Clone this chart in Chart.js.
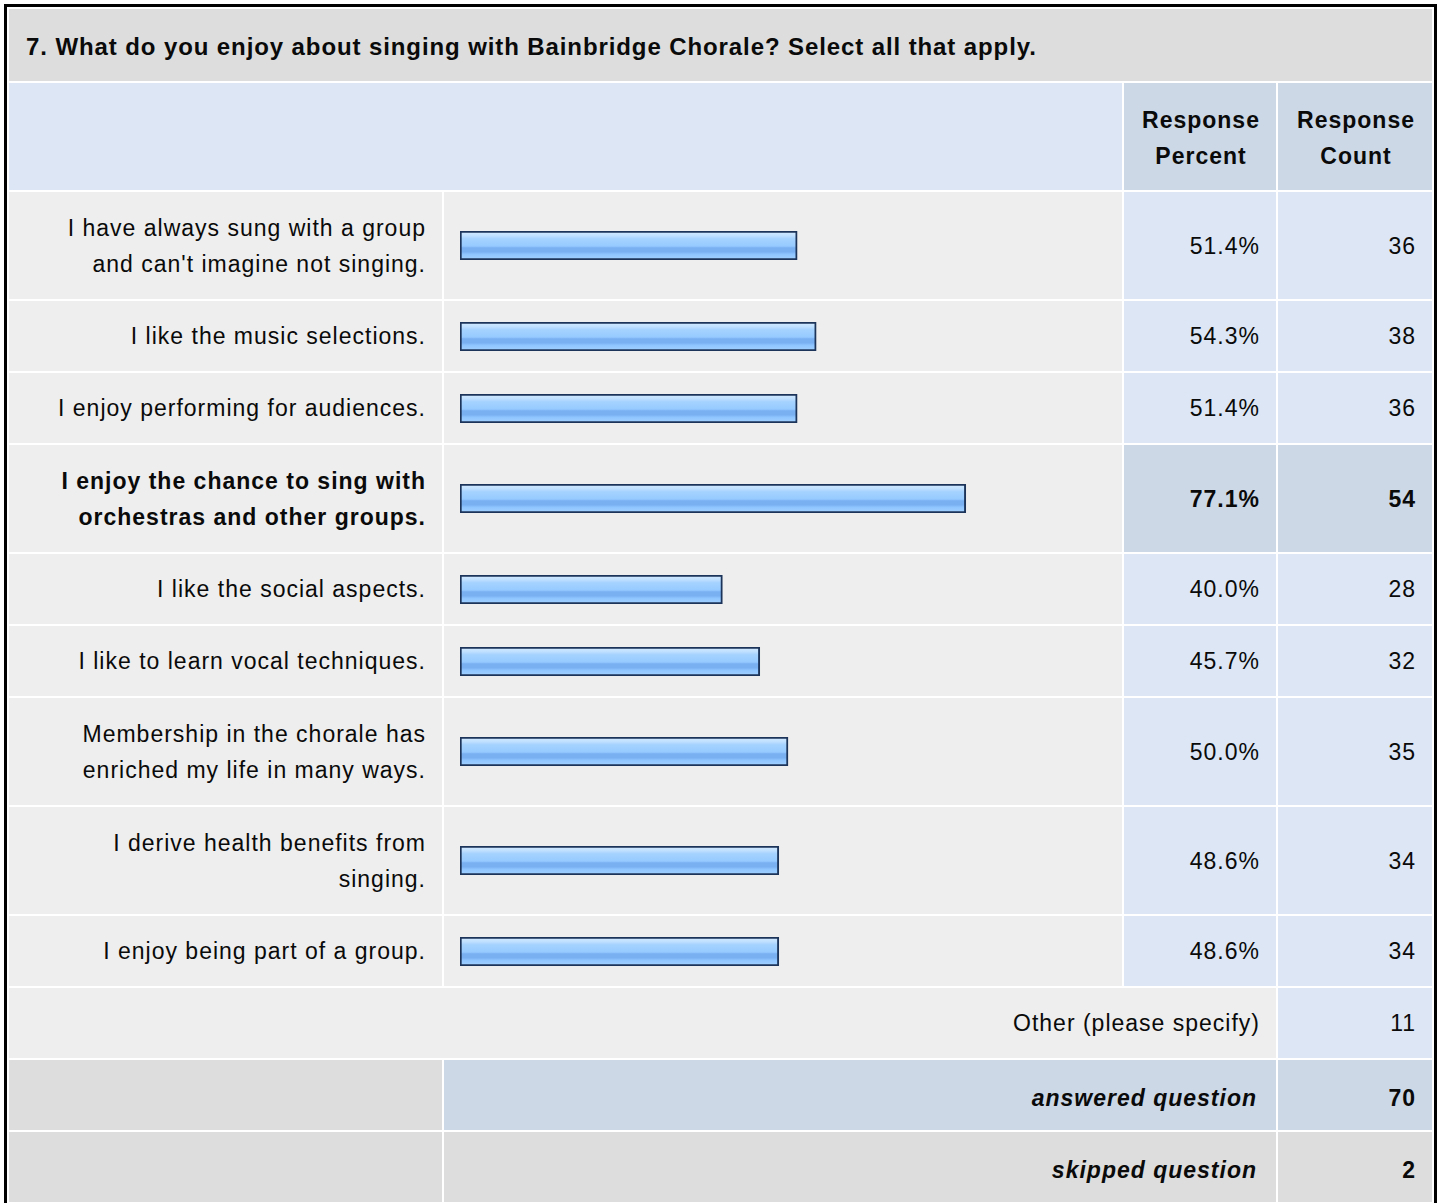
<!DOCTYPE html>
<html>
<head>
<meta charset="utf-8">
<script src="https://cdn.jsdelivr.net/npm/chart.js@4/dist/chart.umd.min.js"></script>
<style>
  html, body { margin:0; padding:0; background:#fff; }
  body { width:1440px; height:1203px; overflow:hidden; position:relative;
         font-family:"Liberation Sans", Arial, sans-serif; font-size:23px; letter-spacing:1px; color:#0a0a0a; }
  #frame { position:absolute; left:4px; top:4px; width:1427px; border:3px solid #000; border-bottom:none; background:#fff; }
  table { border-spacing:2px; border-collapse:separate; table-layout:fixed; width:1427px; }
  td { padding:0 16px 0 17px; line-height:36px; vertical-align:middle; white-space:nowrap; overflow:hidden; }
  .title td { background:#dddddd; font-weight:bold; font-size:24px; letter-spacing:0.9px; height:68px; padding-top:4px; padding-bottom:0; }
  .hdr td { height:105px; padding-top:2px; }
  .hl { background:#dce6f4; }
  .hd { background:#ccd8e6; font-weight:bold; text-align:center; padding-left:4px; padding-right:2px; }
  .lab { background:#eeeeee; text-align:right; }
  .bar { background:#eeeeee; padding:0; }
  .bar canvas { display:block; }
  .val { background:#dce6f4; text-align:right; }
  .max td.lab, .max td.val { font-weight:bold; }
  .max td.val { background:#ccd8e6; }
  tr.single td { height:70px; }
  tr.double td { height:107px; }
  tr.sum td { height:65px; padding-top:5px; }
  .grey { background:#dddddd; }
  .sumlab { text-align:right; font-weight:bold; font-style:italic; padding-right:19px; }
  .sumval { text-align:right; font-weight:bold; }
  .blue2 { background:#ccd8e6; }
</style>
</head>
<body>
<div id="frame">
<table id="tbl">
  <colgroup><col style="width:433px"><col style="width:678px"><col style="width:152px"><col style="width:154px"></colgroup>
  <tbody id="tb"></tbody>
</table>
</div>
<script>
// ---- data ----
const questionTitle = "7. What do you enjoy about singing with Bainbridge Chorale? Select all that apply.";
const headerPercent = ["Response", "Percent"];
const headerCount = ["Response", "Count"];
const categories = [
  ["I have always sung with a group", "and can't imagine not singing."],
  ["I like the music selections."],
  ["I enjoy performing for audiences."],
  ["I enjoy the chance to sing with", "orchestras and other groups."],
  ["I like the social aspects."],
  ["I like to learn vocal techniques."],
  ["Membership in the chorale has", "enriched my life in many ways."],
  ["I derive health benefits from", "singing."],
  ["I enjoy being part of a group."]
];
const responsePercent = [51.4, 54.3, 51.4, 77.1, 40.0, 45.7, 50.0, 48.6, 48.6];
const responseCount = [36, 38, 36, 54, 28, 32, 35, 34, 34];
const otherLabel = "Other (please specify)";
const otherCount = 11;
const answeredLabel = "answered question";
const answeredCount = 70;
const skippedLabel = "skipped question";
const skippedCount = 2;

// ---- table ----
const tb = document.getElementById('tb');
function el(tag, cls, html) { const e = document.createElement(tag); if (cls) e.className = cls; if (html !== undefined) e.innerHTML = html; return e; }
const esc = s => s.replace(/&/g,'&amp;').replace(/</g,'&lt;');

let tr = el('tr','title'); let td = el('td','', esc(questionTitle)); td.colSpan = 4; tr.appendChild(td); tb.appendChild(tr);
tr = el('tr','hdr');
td = el('td','hl'); td.colSpan = 2; tr.appendChild(td);
tr.appendChild(el('td','hd', headerPercent.map(esc).join('<br>')));
tr.appendChild(el('td','hd', headerCount.map(esc).join('<br>')));
tb.appendChild(tr);

const maxVal = Math.max(...responsePercent);
const canvases = [];
categories.forEach((lines, i) => {
  const r = el('tr', (lines.length > 1 ? 'double' : 'single') + (responsePercent[i] === maxVal ? ' max' : ''));
  r.appendChild(el('td','lab', lines.map(esc).join('<br>')));
  const bc = el('td','bar');
  const cv = document.createElement('canvas');
  cv.width = 678; cv.height = 29;
  cv.style.width = '678px'; cv.style.height = '29px';
  bc.appendChild(cv); r.appendChild(bc);
  canvases.push(cv);
  r.appendChild(el('td','val', responsePercent[i].toFixed(1) + '%'));
  r.appendChild(el('td','val', String(responseCount[i])));
  tb.appendChild(r);
});

tr = el('tr','single');
td = el('td','lab', esc(otherLabel)); td.colSpan = 3; tr.appendChild(td);
tr.appendChild(el('td','val', String(otherCount)));
tb.appendChild(tr);

tr = el('tr','sum');
tr.appendChild(el('td','grey'));
td = el('td','blue2 sumlab', esc(answeredLabel)); td.colSpan = 2; tr.appendChild(td);
tr.appendChild(el('td','blue2 sumval', String(answeredCount)));
tb.appendChild(tr);

tr = el('tr','sum');
tr.appendChild(el('td','grey'));
td = el('td','grey sumlab', esc(skippedLabel)); td.colSpan = 2; tr.appendChild(td);
tr.appendChild(el('td','grey sumval', String(skippedCount)));
tb.appendChild(tr);

// ---- bars (Chart.js) ----
function barGradient(context) {
  const chart = context.chart;
  const area = chart.chartArea;
  if (!area) return '#94c9ff';
  const g = chart.ctx.createLinearGradient(0, area.top, 0, area.bottom);
  g.addColorStop(0.00, '#d4ebff');
  g.addColorStop(0.16, '#c0e0ff');
  g.addColorStop(0.26, '#a6d3ff');
  g.addColorStop(0.52, '#96caff');
  g.addColorStop(0.58, '#79b0f1');
  g.addColorStop(0.72, '#79b0f1');
  g.addColorStop(0.80, '#8fc5ff');
  g.addColorStop(1.00, '#a4d2ff');
  return g;
}
canvases.forEach((cv, i) => {
  new Chart(cv, {
    type: 'bar',
    data: {
      labels: [categories[i].join(' ')],
      datasets: [{
        data: [responsePercent[i]],
        backgroundColor: barGradient,
        borderColor: '#1c3459',
        borderWidth: 2,
        borderSkipped: false,
        barPercentage: 1,
        categoryPercentage: 1
      }]
    },
    options: {
      indexAxis: 'y',
      responsive: false,
      maintainAspectRatio: false,
      animation: false,
      devicePixelRatio: 1,
      layout: { padding: { left: 16, right: 6, top: 0, bottom: 0 } },
      scales: {
        x: { display: false, min: 0, max: 100 },
        y: { display: false }
      },
      plugins: { legend: { display: false }, tooltip: { enabled: false }, title: { display: false } }
    }
  });
});
</script>
</body>
</html>
